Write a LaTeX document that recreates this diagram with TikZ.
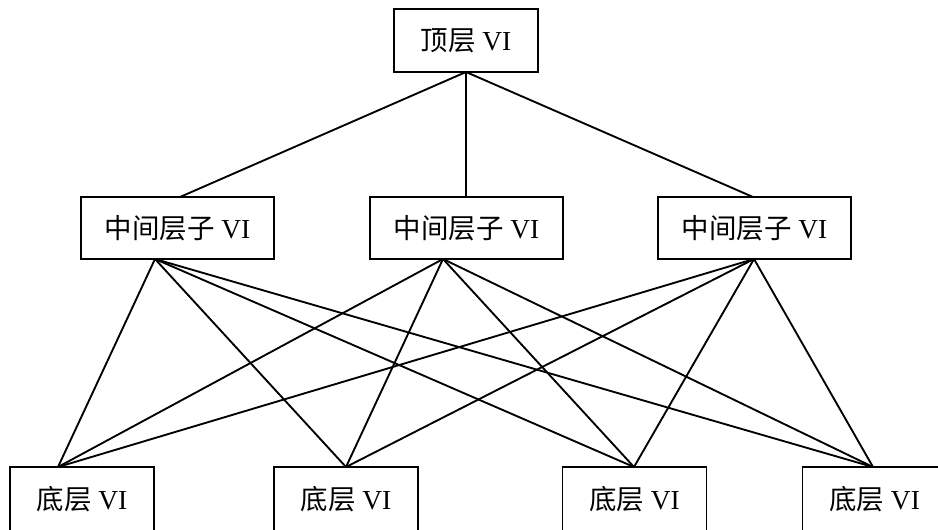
\documentclass[tikz,border=0pt]{standalone}
\usepackage{fontspec}
\setmainfont{Liberation Serif}
\newfontfamily\cjk{Noto Sans CJK SC}
\begin{document}
\begin{tikzpicture}[x=0.75pt,y=-0.75pt,
  box/.style={draw, line width=1.4pt, inner sep=0pt, font=\fontsize{20.6}{24}\selectfont},
  sbox/.style={box, minimum width=108pt, minimum height=47pt},
  mbox/.style={box, minimum width=144.5pt, minimum height=46.5pt},
  bbox/.style={box, minimum width=108pt, minimum height=48pt},
  link/.style={line width=1.4pt}]
\useasboundingbox (0,0) rectangle (938,529);
\clip (0,0) rectangle (938,529);
% top
\node[sbox] (t) at (466,40.5) {{\cjk 顶层} VI};
% middle
\node[mbox] (m1) at (177.5,228) {{\cjk 中间层子} VI};
\node[mbox] (m2) at (466.5,228) {{\cjk 中间层子} VI};
\node[mbox] (m3) at (754.5,228) {{\cjk 中间层子} VI};
% bottom
\node[bbox] (b1) at (82,499) {{\cjk 底层} VI};
\node[bbox] (b2) at (346,499) {{\cjk 底层} VI};
\node[bbox] (b3) at (634.5,499) {{\cjk 底层} VI};
\node[bbox] (b4) at (874.5,499) {{\cjk 底层} VI};
% connection points
\coordinate (tb) at (466,72);
\coordinate (m1t) at (180,197);
\coordinate (m2t) at (466,197);
\coordinate (m3t) at (753,197);
\coordinate (m1b) at (155,259);
\coordinate (m2b) at (443,259);
\coordinate (m3b) at (754,259);
\coordinate (b1t) at (58,467);
\coordinate (b2t) at (346,467);
\coordinate (b3t) at (634,467);
\coordinate (b4t) at (873,467);
% links top-middle
\draw[link] (tb) -- (m1t);
\draw[link] (tb) -- (m2t);
\draw[link] (tb) -- (m3t);
% links middle-bottom
\foreach \m in {m1b,m2b,m3b}{
  \foreach \b in {b1t,b2t,b3t,b4t}{
    \draw[link] (\m) -- (\b);
  }
}
\end{tikzpicture}
\end{document}
